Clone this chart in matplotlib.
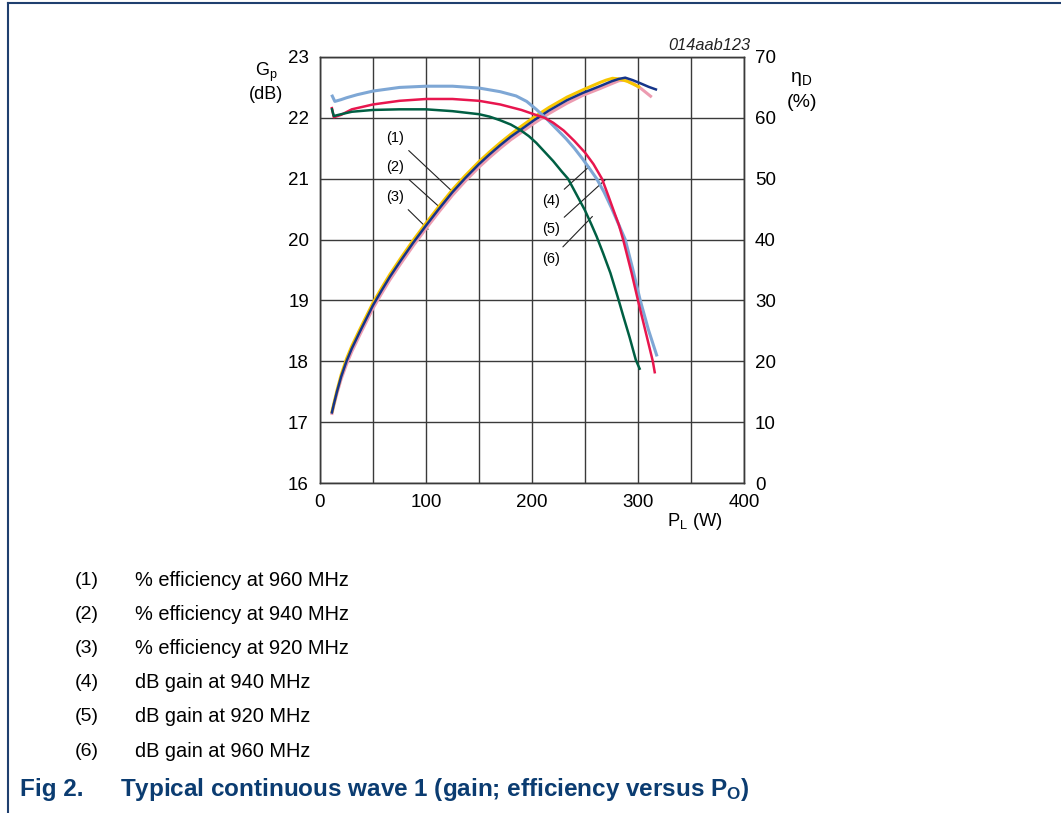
import matplotlib
matplotlib.use("Agg")
import matplotlib.pyplot as plt
from matplotlib.lines import Line2D

plt.rcParams['font.family'] = ['Liberation Sans', 'DejaVu Sans']
plt.rcParams['mathtext.fontset'] = 'custom'
plt.rcParams['mathtext.rm'] = 'Liberation Sans'
plt.rcParams['mathtext.it'] = 'Liberation Sans:italic'

# gain curves (left axis, dB)
p_g920 = [11, 14, 20, 25, 35, 50, 75, 100, 125, 150, 170, 185, 195, 204, 214, 223, 232, 240, 248, 255,
          261, 268, 275, 282, 288, 295, 302, 310, 318]
g920 = [22.38, 22.27, 22.30, 22.33, 22.38, 22.44, 22.50, 22.52, 22.52, 22.49, 22.43, 22.36, 22.27, 22.14,
        21.98, 21.82, 21.66, 21.50, 21.32, 21.15, 21.00, 20.78, 20.52, 20.24, 20.00, 19.52, 19.01, 18.51, 18.08]

p_g940 = [11, 13, 20, 30, 50, 75, 100, 125, 150, 170, 190, 205, 212, 220, 230, 240, 250, 258, 266,
          272, 278, 282, 286, 294, 300, 307, 314, 316]
g940 = [22.18, 22.01, 22.05, 22.14, 22.22, 22.28, 22.31, 22.31, 22.28, 22.22, 22.13, 22.04, 22.00, 21.92,
        21.79, 21.62, 21.43, 21.24, 21.00, 20.72, 20.43, 20.24, 20.00, 19.45, 19.00, 18.50, 18.00, 17.80]

p_g960 = [11, 13, 20, 30, 50, 75, 100, 125, 150, 160, 170, 180, 189, 197, 204, 212, 220, 228, 234,
          242, 250, 256, 261, 267, 274, 281, 286, 292, 298, 302]
g960 = [22.16, 22.03, 22.06, 22.10, 22.13, 22.14, 22.14, 22.11, 22.06, 22.02, 21.96, 21.89, 21.80, 21.70,
        21.59, 21.44, 21.29, 21.12, 21.00, 20.74, 20.48, 20.25, 20.05, 19.78, 19.45, 19.05, 18.75, 18.40,
        18.02, 17.86]

# efficiency curves (right axis, %)
p_e940 = [11, 13, 16, 20, 25, 30, 38, 44, 50, 58, 66, 76, 88, 100, 112, 125, 137, 150, 160, 170, 180,
          189, 201, 216, 233, 248, 264, 275, 282, 288, 295, 302, 310, 318]
e940 = [11.4, 12.9, 15.0, 17.5, 20.0, 22.1, 25.0, 27.1, 29.2, 31.6, 33.9, 36.5, 39.5, 42.3, 45.0, 47.8,
        50.1, 52.4, 54.0, 55.5, 56.9, 58.0, 59.5, 61.2, 62.9, 64.1, 65.2, 66.0, 66.4, 66.6, 66.2, 65.7,
        65.1, 64.6]

p_e960 = [11, 13, 16, 20, 25, 30, 38, 44, 50, 58, 66, 76, 88, 100, 112, 125, 137, 150, 160, 170, 180,
          189, 201, 216, 233, 248, 264, 270, 276, 282, 290, 296, 302]
e960 = [11.5, 13.0, 15.2, 17.8, 20.4, 22.5, 25.4, 27.5, 29.6, 32.0, 34.3, 36.9, 39.9, 42.7, 45.4, 48.2,
        50.5, 52.8, 54.4, 55.9, 57.3, 58.5, 60.0, 61.7, 63.4, 64.6, 65.8, 66.2, 66.5, 66.4, 66.0, 65.5,
        65.0]

p_e920 = [11, 13, 16, 20, 25, 30, 38, 44, 50, 58, 66, 76, 88, 100, 112, 125, 137, 150, 160, 170, 180,
          189, 201, 216, 233, 248, 264, 275, 282, 288, 296, 303, 308, 313]
e920 = [11.2, 12.7, 14.7, 17.1, 19.5, 21.6, 24.5, 26.6, 28.7, 31.1, 33.4, 36.0, 39.0, 41.8, 44.5, 47.3,
        49.6, 51.9, 53.5, 55.0, 56.4, 57.5, 59.0, 60.7, 62.4, 63.7, 64.8, 65.6, 66.1, 66.2, 65.6, 64.8,
        64.1, 63.4]

legend_items = ["% efficiency at 960 MHz", "% efficiency at 940 MHz", "% efficiency at 920 MHz",
                "dB gain at 940 MHz", "dB gain at 920 MHz", "dB gain at 960 MHz"]

c_yellow = '#F7C600'
c_navy = '#15358A'
c_pink = '#EC9BB0'
c_lblue = '#7EA7D5'
c_red = '#E8164E'
c_green = '#005F43'
c_grid = '#3a3a3a'
c_caption = '#0B3C71'

fig = plt.figure(figsize=(10.61, 8.13), dpi=100)
ax = fig.add_axes([0.3016, 0.4059, 0.3996, 0.524])
ax2 = ax.twinx()

ax.set_xlim(0, 400)
ax.set_ylim(16, 23)
ax2.set_ylim(0, 70)
ax.set_xticks(range(0, 401, 100))
ax.set_xticks(range(0, 401, 50), minor=True)
ax.set_yticks(range(16, 24))
ax2.set_yticks(range(0, 71, 10))
ax.grid(True, which='both', color=c_grid, lw=1.0)
ax.tick_params(which='both', length=0, labelsize=13.5, pad=8)
ax2.tick_params(length=0, labelsize=13.5, pad=8)
for s in list(ax.spines.values()) + list(ax2.spines.values()):
    s.set_color(c_grid)
    s.set_linewidth(1.0)

lw = 1.8
style = dict(solid_joinstyle='round', solid_capstyle='butt')
ax2.plot(p_e920, e920, color=c_pink, lw=lw + 0.4, **style)
ax2.plot(p_e960, e960, color=c_yellow, lw=lw + 0.4, **style)
ax2.plot(p_e940, e940, color=c_navy, lw=lw, **style)
ax2.plot(p_g920, [(g - 16) * 10 for g in g920], color=c_lblue, lw=lw + 0.4, **style)
ax2.plot(p_g940, [(g - 16) * 10 for g in g940], color=c_red, lw=lw, **style)
ax2.plot(p_g960, [(g - 16) * 10 for g in g960], color=c_green, lw=lw, **style)

# leader labels
arrow = dict(arrowstyle='-', color='#222222', lw=0.8, shrinkA=3, shrinkB=0)
labels_left = [("(1)", (71, 21.67), (125.5, 20.78)),
               ("(2)", (71, 21.19), (113, 20.53)),
               ("(3)", (71, 20.70), (102, 20.17))]
for t, xyt, xy in labels_left:
    ax.annotate(t, xy=xy, xytext=xyt, fontsize=10.5, ha='center', va='center',
                arrowprops=arrow)
labels_right = [("(4)", (218, 20.63), (254, 21.20)),
                ("(5)", (218, 20.17), (269, 20.98)),
                ("(6)", (218, 19.68), (257, 20.38))]
for t, xyt, xy in labels_right:
    ax.annotate(t, xy=xy, xytext=xyt, fontsize=10.5, ha='center', va='center',
                bbox=dict(boxstyle='square,pad=0.15', fc='white', ec='none'),
                arrowprops=arrow)

fig.text(0.707, 0.944, "014aab123", fontsize=11.8, style='italic', ha='right', va='center', color='#222222')
fig.text(0.251, 0.911, r"G$_\mathregular{p}$", fontsize=13, ha='center', va='center')
fig.text(0.251, 0.884, "(dB)", fontsize=13, ha='center', va='center')
fig.text(0.755, 0.903, r"$\mathregular{\eta_D}$", fontsize=14, ha='center', va='center')
fig.text(0.756, 0.874, "(%)", fontsize=14, ha='center', va='center')
fig.text(0.655, 0.358, r"P$_\mathregular{L}$ (W)", fontsize=13.2, ha='center', va='center')

# legend list under the chart
y0 = 580
for i, item in enumerate(legend_items):
    y = 1 - (y0 + i * 34.2) / 813
    fig.text(75 / 1061, y, f"({i + 1})", fontsize=14, va='center')
    fig.text(135 / 1061, y, item, fontsize=14.4, va='center')

fig.text(20 / 1061, 1 - 789 / 813, "Fig 2.", fontsize=17.5, fontweight='bold', color=c_caption, va='center')
fig.text(120 / 1061, 1 - 789 / 813, r"Typical continuous wave 1 (gain; efficiency versus P$_\mathregular{O}$)",
         fontsize=17.5, fontweight='bold', color=c_caption, va='center')

# page frame lines
fig.add_artist(Line2D([8 / 1061, 8 / 1061], [0, 1 - 3 / 813], color='#1F3F6F', lw=1.5, transform=fig.transFigure))
fig.add_artist(Line2D([8 / 1061, 1], [1 - 3 / 813, 1 - 3 / 813], color='#1F3F6F', lw=1.5, transform=fig.transFigure))

fig.savefig("out.png", dpi=100)
